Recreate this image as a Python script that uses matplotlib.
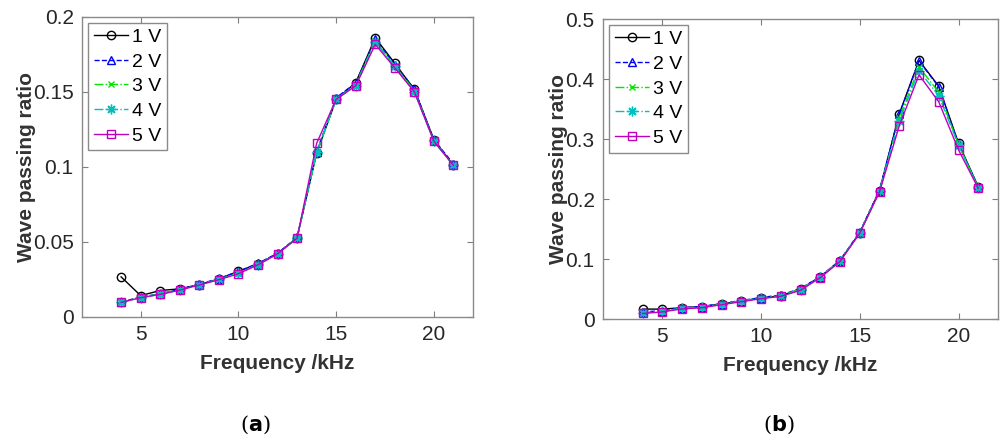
import numpy as np
import matplotlib.pyplot as plt
from matplotlib.ticker import FormatStrFormatter

plt.rcParams['font.family'] = ['Liberation Sans', 'DejaVu Sans']

# frequency points (kHz)
freq = np.arange(4, 22)

# panel (a)
a_1v = [0.0267, 0.0142, 0.0176, 0.0187, 0.0216, 0.0253, 0.0304, 0.0353, 0.0422,
        0.0527, 0.109, 0.145, 0.156, 0.186, 0.169, 0.1516, 0.118, 0.101]
a_2v = [0.0100, 0.0132, 0.0155, 0.0183, 0.0218, 0.0256, 0.0303, 0.0357, 0.0424,
        0.0530, 0.110, 0.146, 0.156, 0.185, 0.168, 0.152, 0.118, 0.102]
a_3v = [0.0098, 0.0130, 0.0153, 0.0180, 0.0215, 0.0250, 0.0293, 0.0350, 0.0420,
        0.0527, 0.109, 0.145, 0.155, 0.184, 0.167, 0.151, 0.117, 0.101]
a_4v = [0.0098, 0.0128, 0.0152, 0.0180, 0.0214, 0.0250, 0.0290, 0.0348, 0.0420,
        0.0525, 0.110, 0.145, 0.154, 0.183, 0.167, 0.150, 0.117, 0.101]
a_5v = [0.0097, 0.0128, 0.0150, 0.0178, 0.0213, 0.0248, 0.0288, 0.0347, 0.0420,
        0.0524, 0.1156, 0.145, 0.154, 0.1816, 0.166, 0.150, 0.117, 0.101]

# panel (b)
b_1v = [0.0167, 0.0167, 0.019, 0.021, 0.025, 0.0306, 0.035, 0.039, 0.050,
        0.0706, 0.097, 0.144, 0.214, 0.342, 0.431, 0.388, 0.293, 0.2206]
b_2v = [0.012, 0.014, 0.019, 0.021, 0.026, 0.031, 0.036, 0.040, 0.051,
        0.071, 0.098, 0.145, 0.215, 0.341, 0.430, 0.387, 0.292, 0.220]
b_3v = [0.011, 0.013, 0.018, 0.020, 0.025, 0.030, 0.035, 0.039, 0.050,
        0.070, 0.097, 0.144, 0.213, 0.335, 0.420, 0.378, 0.291, 0.219]
b_4v = [0.010, 0.013, 0.018, 0.020, 0.025, 0.030, 0.035, 0.038, 0.049,
        0.070, 0.097, 0.144, 0.213, 0.330, 0.414, 0.372, 0.290, 0.219]
b_5v = [0.0094, 0.012, 0.017, 0.019, 0.024, 0.029, 0.034, 0.038, 0.048,
        0.069, 0.096, 0.143, 0.212, 0.322, 0.407, 0.362, 0.282, 0.218]

labels = ['1 V', '2 V', '3 V', '4 V', '5 V']
# colour, line style, marker, marker size (MATLAB-like asterisk for 4 V)
styles = [('k', '-', 'o', 6), ('b', '--', '^', 6), ('#00e600', '-.', 'x', 4.5),
          ('c', '-.', (8, 2, 0), 7), ('m', '-', 's', 6)]

fig = plt.figure(figsize=(10, 4.42), dpi=100)
ax_a = fig.add_axes([0.082, 0.283, 0.391, 0.679])
ax_b = fig.add_axes([0.603, 0.278, 0.395, 0.679])


def draw_panel(ax, series, ymax, ystep, fmt):
    for vals, lab, (c, ls, mk, ms) in zip(series, labels, styles):
        ax.plot(freq, vals, color=c, linestyle=ls, marker=mk, markersize=ms,
                markerfacecolor='none', markeredgecolor=c, linewidth=1,
                label=lab)
    ax.set_xlim(2, 22)
    ax.set_ylim(0, ymax)
    ax.set_xticks([5, 10, 15, 20])
    ax.set_yticks(np.arange(0, ymax + ystep / 2, ystep))
    ax.yaxis.set_major_formatter(FormatStrFormatter(fmt))
    ax.tick_params(direction='in', top=True, right=True, length=4, pad=6,
                   labelsize=15, colors='#7f7f7f', labelcolor='#262626')
    for sp in ax.spines.values():
        sp.set_color('#8a8a8a')
        sp.set_linewidth(1)
    ax.set_xlabel('Frequency /kHz', fontsize=15, fontweight='bold',
                  color='#333333', labelpad=7)
    ax.set_ylabel('Wave passing ratio', fontsize=15, fontweight='bold',
                  color='#333333', labelpad=-2)
    leg = ax.legend(loc='upper left', fontsize=14, handlelength=1.75,
                    handletextpad=0.2, borderpad=0.3, labelspacing=0.36,
                    borderaxespad=0.3, fancybox=False, framealpha=1)
    leg.get_frame().set_edgecolor('#8a8a8a')
    leg.get_frame().set_linewidth(1)


draw_panel(ax_a, [a_1v, a_2v, a_3v, a_4v, a_5v], 0.2, 0.05, '%g')
draw_panel(ax_b, [b_1v, b_2v, b_3v, b_4v, b_5v], 0.5, 0.1, '%g')

fig.text(0.255, 0.025, r'(' + r'$\mathbf{a}$' + ')', ha='center', fontsize=15,
         family='DejaVu Serif')
fig.text(0.779, 0.025, r'(' + r'$\mathbf{b}$' + ')', ha='center', fontsize=15,
         family='DejaVu Serif')

fig.savefig('out.png', dpi=100)
